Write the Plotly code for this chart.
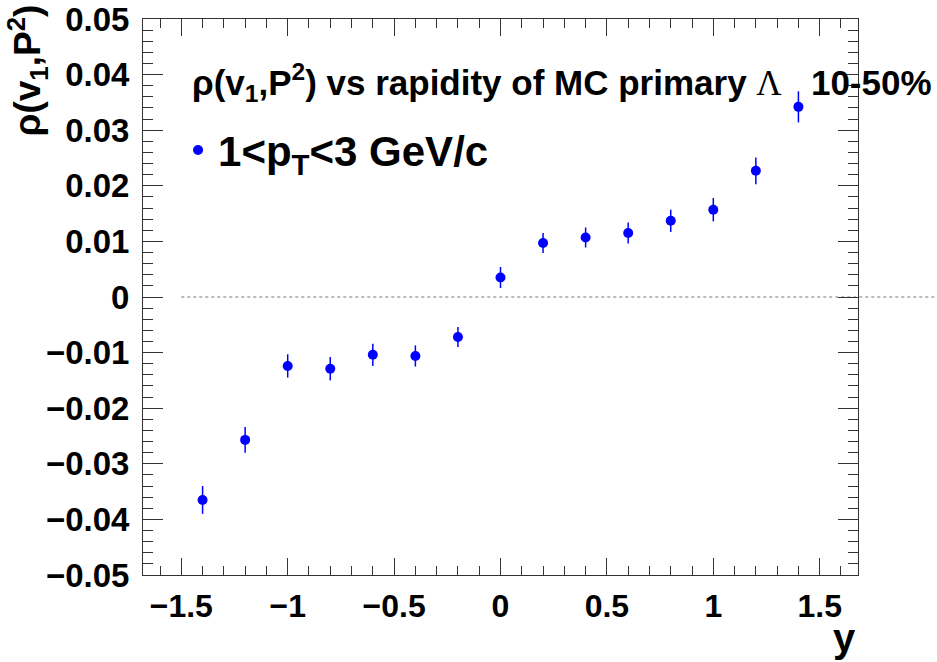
import plotly.graph_objects as go

# ---- data ----
rapidity = [-1.4, -1.2, -1.0, -0.8, -0.6, -0.4, -0.2, 0.0, 0.2, 0.4, 0.6, 0.8, 1.0, 1.2, 1.4]
rho = [-0.0365, -0.0257, -0.0124, -0.0129, -0.0104, -0.0106, -0.0072, 0.0035,
       0.0097, 0.0107, 0.0115, 0.0137, 0.0157, 0.0227, 0.0342]
rho_err = [0.0025, 0.0023, 0.0021, 0.0021, 0.0020, 0.0019, 0.0018, 0.0019,
           0.0018, 0.0018, 0.0019, 0.0020, 0.0021, 0.0024, 0.0028]

x_range = [-1.68, 1.68]
y_range = [-0.05, 0.05]
x_ticks = [-1.5, -1, -0.5, 0, 0.5, 1, 1.5]
x_ticklabels = ["\u22121.5", "\u22121", "\u22120.5", "0", "0.5", "1", "1.5"]
y_ticks = [-0.05, -0.04, -0.03, -0.02, -0.01, 0, 0.01, 0.02, 0.03, 0.04, 0.05]
y_ticklabels = ["\u22120.05", "\u22120.04", "\u22120.03", "\u22120.02", "\u22120.01", "0",
                "0.01", "0.02", "0.03", "0.04", "0.05"]
zero_line_start = -1.5

FONT = "Liberation Sans"
BLUE = "#0000ff"

fig = go.Figure()
fig.add_trace(go.Scatter(
    x=rapidity, y=rho, mode="markers",
    marker=dict(color=BLUE, size=10, symbol="circle"),
    error_y=dict(type="data", array=rho_err, color=BLUE, thickness=1.5, width=0),
    name="1&lt;p<sub>T</sub>&lt;3 GeV/c",
    showlegend=True,
))

axis_common = dict(
    showgrid=False, zeroline=False, showline=True, linecolor="#333333", linewidth=1,
    mirror="ticks", ticks="inside", tickcolor="#333333", tickwidth=1, automargin=False,
)

fig.update_xaxes(
    range=x_range, tickmode="array", tickvals=x_ticks, ticktext=x_ticklabels,
    ticklen=17, ticklabelstandoff=3,
    tickfont=dict(family=FONT, size=32, color="black", weight="bold"),
    minor=dict(ticks="inside", dtick=0.1, ticklen=9, tickcolor="#333333", tickwidth=1, showgrid=False),
    **axis_common,
)
fig.update_yaxes(
    range=y_range, tickmode="array", tickvals=y_ticks, ticktext=y_ticklabels,
    ticklen=20, ticklabelstandoff=6,
    tickfont=dict(family=FONT, size=33, color="black", weight="bold"),
    minor=dict(ticks="inside", dtick=0.002, ticklen=10, tickcolor="#333333", tickwidth=1, showgrid=False),
    **axis_common,
)

# dotted zero line from y=-1.5 extending past the frame
x0_paper = (zero_line_start - x_range[0]) / (x_range[1] - x_range[0])
fig.add_shape(type="line", xref="paper", yref="y", x0=x0_paper, x1=1.12, y0=0, y1=0,
              line=dict(color="#777777", width=1, dash="dot"), layer="below")

fig.add_annotation(
    xref="paper", yref="paper", x=0.066, y=0.886, xanchor="left", yanchor="middle",
    showarrow=False,
    text="\u03c1(v<sub>1</sub>,P<sup>2</sup>) vs rapidity of MC primary "
         "<span style='font-family:Liberation Serif;font-weight:normal'>\u039b</span>   10-50%",
    font=dict(family=FONT, size=35, color="black", weight="bold"),
)

fig.add_annotation(
    xref="paper", yref="paper", x=-0.162, y=1.03, xanchor="center", yanchor="top",
    showarrow=False, textangle=-90,
    text="\u03c1(v<sub>1</sub>,P<sup>2</sup>)",
    font=dict(family=FONT, size=37, color="black", weight="bold"),
)

fig.add_annotation(
    xref="paper", yref="paper", x=1.0, y=-0.157, xanchor="right", yanchor="bottom",
    showarrow=False, text="y",
    font=dict(family=FONT, size=40, color="black", weight="bold"),
)

fig.update_layout(
    width=937, height=662,
    margin=dict(l=143, r=79, t=19, b=87),
    paper_bgcolor="white", plot_bgcolor="white",
    legend=dict(x=0.049, y=0.764, xanchor="left", yanchor="middle",
                bgcolor="rgba(0,0,0,0)",
                font=dict(family=FONT, size=42, color="black", weight="bold")),
)

fig.write_html("out.html")
